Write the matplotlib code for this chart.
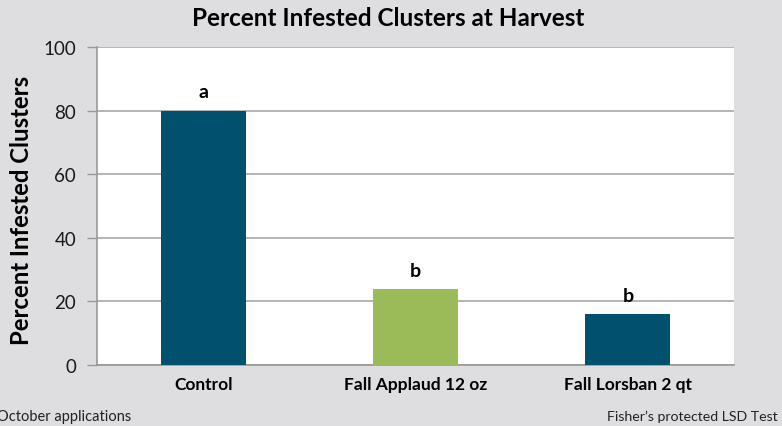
import matplotlib
matplotlib.use("Agg")
import matplotlib.pyplot as plt
import numpy as np

# data
treatments = ["Control", "Fall Applaud 12 oz", "Fall Lorsban 2 qt"]
infested = [80, 24, 16]
letters = ["a", "b", "b"]
bar_colors = ["#00506e", "#9bbb59", "#00506e"]
yticks = [0, 20, 40, 60, 80, 100]

bg = "#dedee0"
plt.rcParams["font.family"] = ["Lato", "DejaVu Sans"]

fig = plt.figure(figsize=(7.82, 4.27), dpi=100, facecolor=bg)
ax = fig.add_axes([97 / 782, 1 - 366 / 427, (734 - 97) / 782, (366 - 48) / 427])
ax.set_facecolor("white")

x = np.arange(len(treatments))
ax.bar(x, infested, width=0.4, color=bar_colors, zorder=3)
for xi, v, lab in zip(x, infested, letters):
    ax.text(xi, v + 3.2, lab, ha="center", va="bottom", fontsize=14,
            fontweight="bold", color="black")

ax.set_xlim(-0.5, len(treatments) - 0.5)
ax.set_ylim(0, 100)
ax.set_yticks(yticks)
ax.set_yticklabels([str(t) for t in yticks], fontsize=13.5, color="#1a1a1a")
ax.set_xticks(x)
ax.set_xticklabels(treatments, fontsize=12.5, fontweight="bold")
ax.tick_params(axis="x", length=0, pad=8)
ax.tick_params(axis="y", length=7, width=1, color="#999999", pad=8)
ax.grid(axis="y", color="#a8a8a8", linewidth=1.2, zorder=1)
for s in ["top", "right"]:
    ax.spines[s].set_visible(False)
for s in ["left", "bottom"]:
    ax.spines[s].set_color("#999999")
    ax.spines[s].set_linewidth(1.2)

ax.set_ylabel("Percent Infested Clusters", fontsize=17.2, fontweight="bold")
ax.yaxis.set_label_coords(-0.1, 0.49)

fig.text(388 / 782, 1 - 18 / 427, "Percent Infested Clusters at Harvest",
         ha="center", va="center", fontsize=17.5, fontweight="bold")
fig.text(-3 / 782, 1 - 417 / 427, "October applications", ha="left", va="center",
         fontsize=10.5, color="#222222")
fig.text(778 / 782, 1 - 417 / 427, "Fisher\u2019s protected LSD Test", ha="right",
         va="center", fontsize=10.2, color="#222222")

fig.savefig("out.png", dpi=100, facecolor=bg)
